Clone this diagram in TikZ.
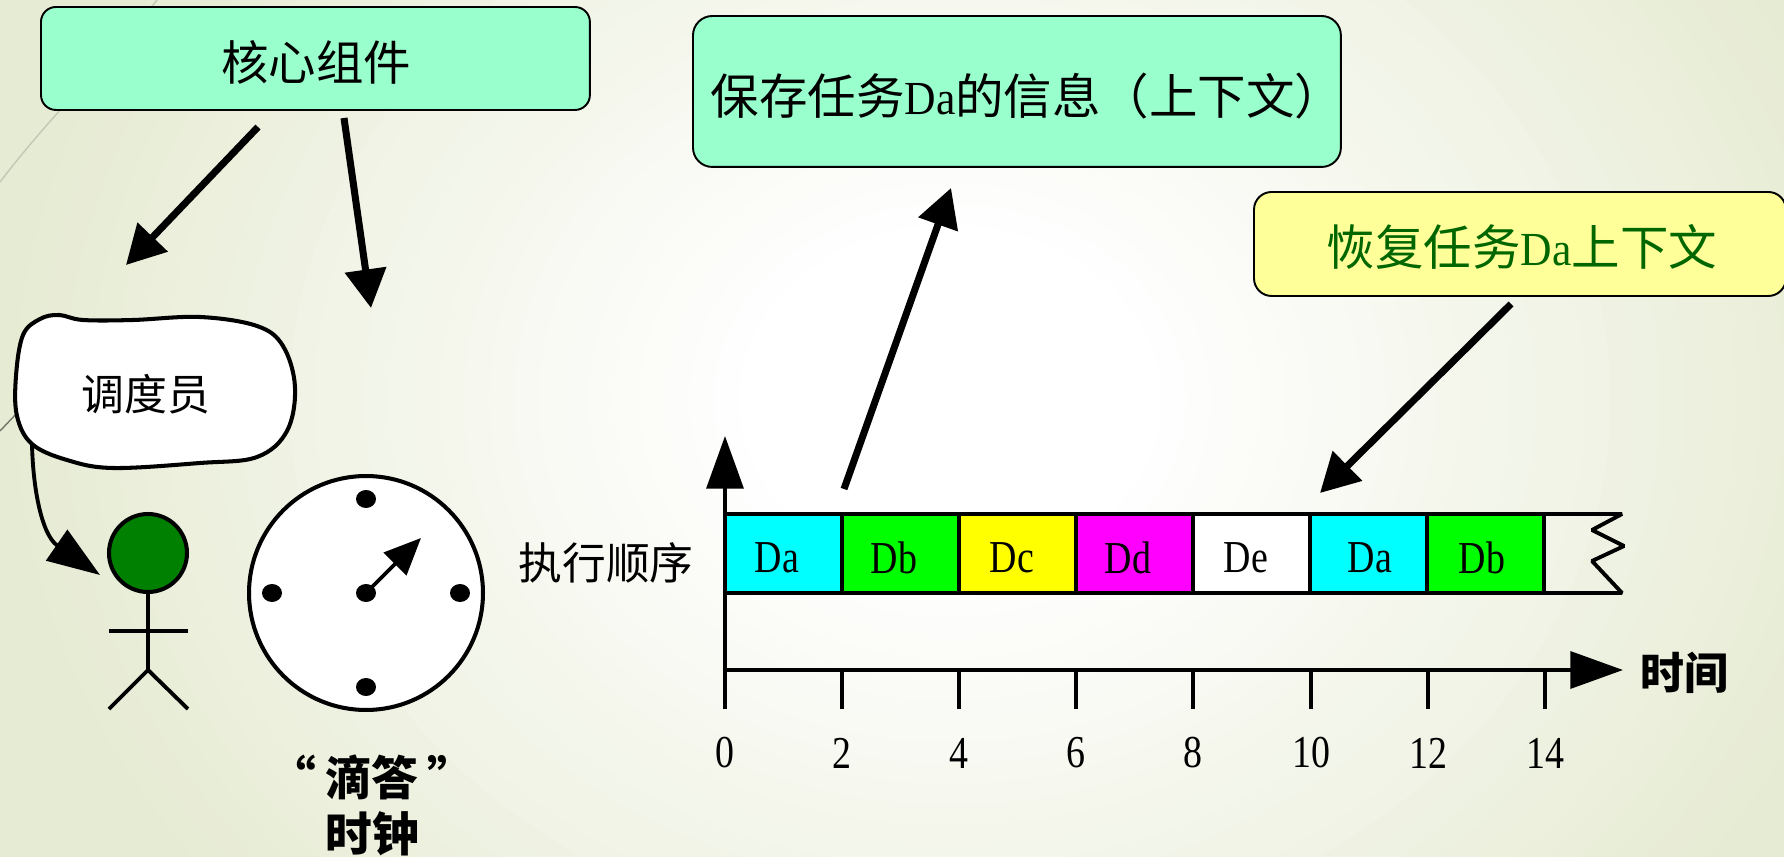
\documentclass[tikz,border=0pt]{standalone}
\usepackage{fontspec}
\usepackage{graphicx}
\usetikzlibrary{arrows.meta,shapes.geometric}
\setmainfont{Liberation Serif}
\newfontfamily\cjk{Noto Sans CJK SC}
\newcommand{\nar}[1]{\scalebox{.83}[1]{\rmfamily\mdseries\fontsize{26}{30}\selectfont #1}}
\newcommand{\narb}[1]{\scalebox{.92}[1]{\rmfamily\mdseries\fontsize{27}{30}\selectfont #1}}
\newcommand{\cjkat}[1]{\fontsize{#1}{#1}\cjk}
\definecolor{bgout}{HTML}{E6EBD3}
\definecolor{mint}{HTML}{99FFCC}
\definecolor{pale}{HTML}{FFFF99}
\definecolor{darkgr}{HTML}{006600}
\definecolor{headgr}{HTML}{008000}
\definecolor{cellcyan}{RGB}{0,255,255}
\definecolor{cellgreen}{RGB}{0,255,0}
\definecolor{cellyellow}{RGB}{255,255,0}
\definecolor{cellmag}{RGB}{255,0,255}
\tikzset{
  px/.style={x=0.02cm,y=-0.02cm},
  roundbox/.style={draw=black,line width=1.1pt,rounded corners=#1,inner sep=0pt,outer sep=0pt,anchor=north west},
  bigarrow/.style={line width=4pt,-{Triangle[length=22pt,width=23pt]}},
  axisarrow/.style={line width=2.2pt,-{Triangle[length=30pt,width=21pt]}},
  curvearrow/.style={line width=2.2pt,-{Triangle[length=30pt,width=21pt]}},
  handarrow/.style={line width=2.2pt,-{Triangle[length=21pt,width=18pt]}},
  cell/.style={draw=black,line width=2.2pt,minimum width=2.34cm,minimum height=1.58cm,inner sep=0pt,outer sep=0pt,anchor=north west},
  celltxt/.style={inner sep=0pt},
  tickline/.style={line width=2.2pt},
  ticklab/.style={inner sep=0pt},
  plain/.style={line width=2.2pt,line cap=butt,line join=bevel},
  deco/.style={line width=0.8pt}
}
\begin{document}
\begin{tikzpicture}[px]
\useasboundingbox (0,0) rectangle (1784,857);
\clip (0,0) rectangle (1784,857);
% background
\fill[bgout] (0,0) rectangle (1784,857);
\foreach \i in {0,...,30}{
  \pgfmathsetmacro\rr{1-0.78*\i/30}
  \pgfmathsetmacro\pc{100-100*\i/30}
  \fill[color=bgout!\pc!white] (950,400) ellipse [x radius=960*\rr, y radius=800*\rr];
}
\draw[deco,color=black!15!bgout] (157,0) .. controls (110,60) and (55,110) .. (0,182);
\draw[deco,color=black!50!bgout] (18,412) -- (0,431);

% top boxes
\node[roundbox=8.5pt,fill=mint,minimum width=10.98cm,minimum height=2.06cm] (core) at (41,7) {};
\node[font=\cjkat{27}] (coret) at (316,62) {核心组件};
\node[roundbox=11pt,fill=mint,minimum width=12.96cm,minimum height=3.02cm] (save) at (693,16) {};
\node[font=\cjkat{27.6}] (savet) at (1027,96) {保存任务\narb{Da}的信息（上下文）};
\node[roundbox=10pt,fill=pale,minimum width=10.64cm,minimum height=2.08cm] (rest) at (1254,192) {};
\node[font=\cjkat{27.6},text=darkgr] (restt) at (1522,247) {恢复任务\narb{Da}上下文};

% big arrows
\coordinate (a1s) at (258,127); \coordinate (a1e) at (126,265);
\coordinate (a2s) at (344,118); \coordinate (a2e) at (371,308);
\coordinate (a3s) at (844,489); \coordinate (a3e) at (951,188);
\coordinate (a4s) at (1511,304); \coordinate (a4e) at (1320,493);
\draw[bigarrow] (a1s) -- (a1e);
\draw[bigarrow] (a2s) -- (a2e);
\draw[bigarrow] (a3s) -- (a3e);
\draw[bigarrow] (a4s) -- (a4e);

% dispatcher cloud
\draw[line width=2.3pt,fill=white]
  plot[smooth cycle,tension=0.6] coordinates {(59,315) (83,320) (133,320) (200,317) (257,326) (283,346) (295,387) (287,431) (257,457) (200,463) (113,468) (67,460) (32,444) (17,416) (16,376) (23,335) (40,319)};
\node[font=\cjkat{24.4}] (disp) at (146,394) {调度员};
\coordinate (cs) at (32,444);
\coordinate (ce) at (100,575);
\draw[curvearrow] (cs) .. controls (33,490) and (42,535) .. (ce);

% person
\node[draw=black,line width=2.3pt,fill=headgr,ellipse,minimum width=1.56cm,minimum height=1.56cm,inner sep=0pt] (head) at (148,553) {};
\coordinate (hip) at (148,670);
\coordinate (arml) at (109,631); \coordinate (armr) at (188,631);
\coordinate (legl) at (109,709); \coordinate (legr) at (188,709);
\draw[plain] (head.south) -- (hip);
\draw[plain] (arml) -- (armr);
\draw[plain] (legl) -- (hip) -- (legr);

% clock
\node[draw=black,line width=2.3pt,fill=white,circle,minimum size=4.68cm,inner sep=0pt] (clock) at (366,593) {};
\foreach \x/\y in {366/499,272/593,366/593,460/593,366/687}
  \fill (\x,\y) ellipse [x radius=10, y radius=9];
\coordinate (hc) at (366,593);
\coordinate (ht) at (421,538);
\draw[handarrow] (hc) -- (ht);
\node[font=\cjkat{26.6}\bfseries] (tick) at (372,777) {“\hspace{5pt}滴答\hspace{5pt}”};
\node[font=\cjkat{26.6}\bfseries] (clk) at (372,834) {时钟};

% timeline cells
\node[cell,fill=cellcyan] (c0) at (725,514) {};
\node[cell,fill=cellgreen] (c1) at (842,514) {};
\node[cell,fill=cellyellow] (c2) at (959,514) {};
\node[cell,fill=cellmag] (c3) at (1076,514) {};
\node[cell,fill=white] (c4) at (1193,514) {};
\node[cell,fill=cellcyan] (c5) at (1310,514) {};
\node[cell,fill=cellgreen] (c6) at (1427,514) {};
\node[celltxt] (t0) at (777,558) {\nar{Da}};
\node[celltxt] (t1) at (894,558) {\nar{Db}};
\node[celltxt] (t2) at (1012,558) {\nar{Dc}};
\node[celltxt] (t3) at (1128,558) {\nar{Dd}};
\node[celltxt] (t4) at (1246,558) {\nar{De}};
\node[celltxt] (t5) at (1370,558) {\nar{Da}};
\node[celltxt] (t6) at (1482,558) {\nar{Db}};
\coordinate (zt) at (1622,514);
\coordinate (z1) at (1592,530);
\coordinate (z2) at (1624,546);
\coordinate (z3) at (1592,561);
\coordinate (zb) at (1622,593);
\draw[plain] (c6.north east) -- (zt) -- (z1) -- (z2) -- (z3) -- (zb) -- (c6.south east);

% axes
\coordinate (o) at (725,670);
\coordinate (ybot) at (725,709);
\coordinate (ytop) at (725,436);
\coordinate (xend) at (1623,670);
\draw[axisarrow] (ybot) -- (ytop);
\draw[axisarrow] (o) -- (xend);
\foreach \xx in {842,959,1076,1193,1311,1428,1545}
  \draw[tickline] (\xx,670) -- (\xx,709);
\node[ticklab] (l0) at (725,753) {\nar{0}};
\node[ticklab] (l2) at (842,753) {\nar{2}};
\node[ticklab] (l4) at (959,753) {\nar{4}};
\node[ticklab] (l6) at (1076,753) {\nar{6}};
\node[ticklab] (l8) at (1193,753) {\nar{8}};
\node[ticklab] (l10) at (1311,753) {\nar{10}};
\node[ticklab] (l12) at (1428,753) {\nar{12}};
\node[ticklab] (l14) at (1545,753) {\nar{14}};
\node[font=\cjkat{24.9}] (order) at (606,563) {执行顺序};
\node[font=\cjkat{25}\bfseries] (time) at (1684,673) {时间};
\end{tikzpicture}
\end{document}
